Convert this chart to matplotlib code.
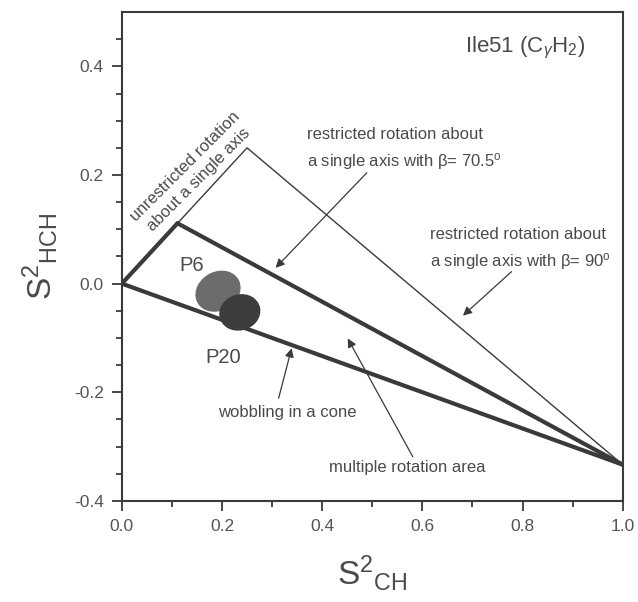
import matplotlib
matplotlib.use("Agg")
import matplotlib.pyplot as plt
from matplotlib.patches import Ellipse

plt.rcParams['font.family'] = ['Liberation Sans', 'DejaVu Sans']
plt.rcParams['mathtext.fontset'] = 'custom'
plt.rcParams['mathtext.rm'] = 'Liberation Sans'
plt.rcParams['mathtext.it'] = 'Liberation Sans:italic'

# boundary lines (S2_CH, S2_HCH)
unrestricted_x = [0.0, 1 / 9]
unrestricted_y = [0.0, 1 / 9]
beta90_x = [0.0, 0.25, 1.0]
beta90_y = [0.0, 0.25, -1 / 3]
beta705_x = [1 / 9, 1.0]
beta705_y = [1 / 9, -1 / 3]
cone_x = [0.0, 1.0]
cone_y = [0.0, -1 / 3]

# measured regions
region_names = ['P6', 'P20']
region_x = [0.192, 0.2355]
region_y = [-0.014, -0.053]
region_w = [0.090, 0.080]
region_h = [0.070, 0.064]
region_angle = [22, 12]
region_color = ['#6c6c6c', '#3c3c3c']

line_col = '#3a3a3a'
text_col = '#4a4a4a'

fig = plt.figure(figsize=(6.38, 6.02), dpi=100)
ax = fig.add_axes([0.191, 0.168, 0.785, 0.812])

ax.plot(beta90_x, beta90_y, color=line_col, lw=1.0)
ax.plot(unrestricted_x, unrestricted_y, color=line_col, lw=3.0, solid_capstyle='round')
ax.plot(beta705_x, beta705_y, color=line_col, lw=3.0, solid_capstyle='round')
ax.plot(cone_x, cone_y, color=line_col, lw=3.0, solid_capstyle='round')

for i in range(len(region_names)):
    ax.add_patch(Ellipse((region_x[i], region_y[i]), region_w[i], region_h[i],
                         angle=region_angle[i], color=region_color[i], zorder=3))

ax.text(0.140, 0.033, 'P6', fontsize=14.5, color=text_col, ha='center', va='center')
ax.text(0.202, -0.136, 'P20', fontsize=14.5, color=text_col, ha='center', va='center')

ax.text(0.925, 0.433, r'Ile51 (C$_\gamma$H$_2$)', fontsize=16, color=text_col,
        ha='right', va='center')

ax.text(0.14, 0.204, 'unrestricted rotation\nabout a single axis', fontsize=12,
        color=text_col, ha='center', va='center', rotation=45,
        rotation_mode='anchor', multialignment='center', linespacing=1.35)

arrow = dict(arrowstyle='-|>', color=line_col, lw=0.9, mutation_scale=13, shrinkA=0, shrinkB=0)

ax.text(0.369, 0.247, 'restricted rotation about\na single axis with β= 70.5$^\\mathregular{o}$',
        fontsize=12, color=text_col, ha='left', va='center', linespacing=1.6)
ax.annotate('', xy=(0.307, 0.029), xytext=(0.489, 0.204), arrowprops=arrow)

ax.text(0.615, 0.063, 'restricted rotation about\na single axis with β= 90$^\\mathregular{o}$',
        fontsize=12, color=text_col, ha='left', va='center', linespacing=1.6)
ax.annotate('', xy=(0.681, -0.059), xytext=(0.778, 0.022), arrowprops=arrow)

ax.text(0.330, -0.237, 'wobbling in a cone', fontsize=12, color=text_col,
        ha='center', va='center')
ax.annotate('', xy=(0.339, -0.119), xytext=(0.313, -0.211), arrowprops=arrow)

ax.text(0.569, -0.338, 'multiple rotation area', fontsize=12, color=text_col,
        ha='center', va='center')
ax.annotate('', xy=(0.451, -0.101), xytext=(0.581, -0.319), arrowprops=arrow)

ax.set_xlim(0, 1.0)
ax.set_ylim(-0.4, 0.5)
ax.set_xticks([0.0, 0.2, 0.4, 0.6, 0.8, 1.0])
ax.set_yticks([-0.4, -0.2, 0.0, 0.2, 0.4])
ax.set_xticks([0.1, 0.3, 0.5, 0.7, 0.9], minor=True)
ax.set_yticks([-0.35, -0.3, -0.25, -0.15, -0.1, -0.05, 0.05, 0.1, 0.15, 0.25, 0.3, 0.35, 0.45], minor=True)
ax.xaxis.set_major_formatter(matplotlib.ticker.FormatStrFormatter('%.1f'))
ax.yaxis.set_major_formatter(matplotlib.ticker.FormatStrFormatter('%.1f'))
ax.tick_params(which='both', direction='out', colors=line_col, labelcolor='#555555',
               labelsize=12.5, width=1.3, top=False, right=False)
ax.tick_params(which='major', length=7, pad=6)
ax.tick_params(which='minor', length=4)
for s in ax.spines.values():
    s.set_linewidth(1.5)
    s.set_color(line_col)

ax.set_xlabel(r'S$^2$$_{\mathregular{CH}}$', fontsize=24, color=text_col, labelpad=14)
ax.set_ylabel(r'S$^2$$_{\mathregular{HCH}}$', fontsize=24, color=text_col, labelpad=10)

fig.savefig('out.png', dpi=100)
